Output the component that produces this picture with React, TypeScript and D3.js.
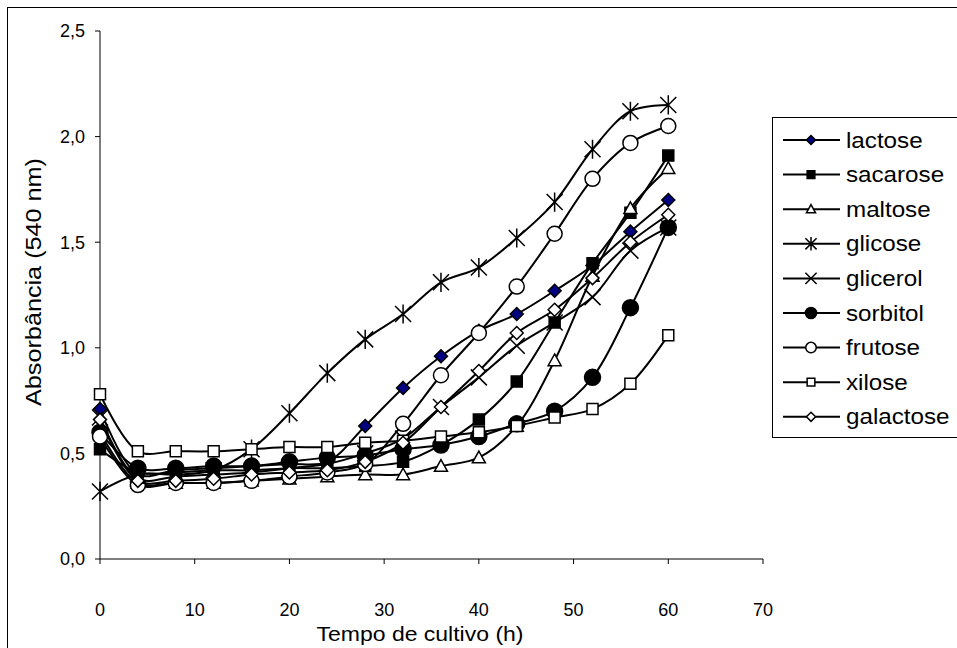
import React from "react";
import * as d3 from "d3";

const times = [0, 4, 8, 12, 16, 20, 24, 28, 32, 36, 40, 44, 48, 52, 56, 60];
const lactose = [0.71, 0.40, 0.42, 0.43, 0.44, 0.45, 0.46, 0.63, 0.81, 0.96, 1.08, 1.16, 1.27, 1.39, 1.55, 1.70];
const sacarose = [0.52, 0.41, 0.41, 0.42, 0.42, 0.43, 0.43, 0.44, 0.46, 0.54, 0.66, 0.84, 1.12, 1.40, 1.64, 1.91];
const maltose = [0.60, 0.36, 0.36, 0.36, 0.37, 0.38, 0.39, 0.40, 0.40, 0.44, 0.48, 0.63, 0.94, 1.34, 1.66, 1.85];
const glicose = [0.32, 0.40, 0.40, 0.42, 0.52, 0.69, 0.88, 1.04, 1.16, 1.31, 1.38, 1.52, 1.69, 1.94, 2.12, 2.15];
const glicerol = [0.67, 0.38, 0.39, 0.40, 0.41, 0.43, 0.45, 0.50, 0.57, 0.72, 0.86, 1.01, 1.12, 1.24, 1.46, 1.57];
const sorbitol = [0.60, 0.43, 0.43, 0.44, 0.44, 0.46, 0.48, 0.49, 0.52, 0.54, 0.58, 0.64, 0.70, 0.86, 1.19, 1.57];
const frutose = [0.58, 0.35, 0.36, 0.36, 0.37, 0.39, 0.41, 0.45, 0.64, 0.87, 1.07, 1.29, 1.54, 1.80, 1.97, 2.05];
const xilose = [0.78, 0.51, 0.51, 0.51, 0.52, 0.53, 0.53, 0.55, 0.56, 0.58, 0.60, 0.63, 0.67, 0.71, 0.83, 1.06];
const galactose = [0.66, 0.37, 0.37, 0.38, 0.40, 0.41, 0.42, 0.46, 0.55, 0.72, 0.89, 1.07, 1.18, 1.33, 1.50, 1.63];

const seriesNames = ["lactose", "sacarose", "maltose", "glicose", "glicerol", "sorbitol", "frutose", "xilose", "galactose"];
const seriesValues = [lactose, sacarose, maltose, glicose, glicerol, sorbitol, frutose, xilose, galactose];
const markerShapes = ["diamond", "square", "triangle", "star", "x", "circle", "circle", "square", "diamond"];
const markerFills = ["#000080", "#000", "#fff", "none", "none", "#000", "#fff", "#fff", "#fff"];
const markerSizes = [6.5, 5.5, 6.5, 8, 8, 8, 7.5, 5.5, 6.5];

const xTicks = [0, 10, 20, 30, 40, 50, 60, 70];
const yTicks = [0, 0.5, 1.0, 1.5, 2.0, 2.5];

const W = 957;
const H = 648;
const FONT = "'Liberation Sans', Arial, sans-serif";

function markerPath(shape: string, s: number): string {
  switch (shape) {
    case "diamond":
      return `M0,${-s}L${s},0L0,${s}L${-s},0Z`;
    case "square":
      return `M${-s},${-s}H${s}V${s}H${-s}Z`;
    case "triangle":
      return `M0,${-s}L${s},${s * 0.8}L${-s},${s * 0.8}Z`;
    case "star":
      return `M${-s},${-s}L${s},${s}M${s},${-s}L${-s},${s}M0,${-s * 1.2}V${s * 1.2}`;
    case "x":
      return `M${-s},${-s}L${s},${s}M${s},${-s}L${-s},${s}`;
    case "circle":
      return `M${s},0A${s},${s} 0 1,1 ${-s},0A${s},${s} 0 1,1 ${s},0Z`;
    default:
      return "";
  }
}

function Marker({ shape, fill, size, x, y }: { shape: string; fill: string; size: number; x: number; y: number }) {
  return (
    <path
      d={markerPath(shape, size)}
      transform={`translate(${x},${y})`}
      fill={fill}
      stroke="#000"
      strokeWidth={1.5}
    />
  );
}

export default function App() {
  const x = d3.scaleLinear().domain([0, 70]).range([100, 763]);
  const y = d3.scaleLinear().domain([0, 2.5]).range([559, 31]);
  const line = d3
    .line<number>()
    .x((_, i) => x(times[i]))
    .y((v) => y(v))
    .curve(d3.curveCatmullRom.alpha(0.5));

  const legendX = 772;
  const legendTop = 117;
  const legendStep = 34.6;
  const legendFirst = 140;

  return (
    <svg
      width={W}
      height={H}
      style={{ position: "absolute", left: 0, top: 0, background: "#fff" }}
      fontFamily={FONT}
    >
      <rect x={0} y={0} width={W} height={H} fill="#fff" />
      <rect x={7.5} y={7.5} width={1000} height={700} fill="none" stroke="#000" strokeWidth={1} />

      {/* axes */}
      <line x1={100} x2={100} y1={y(2.5)} y2={y(0)} stroke="#000" strokeWidth={1} />
      <line x1={100} x2={x(70)} y1={y(0)} y2={y(0)} stroke="#000" strokeWidth={1} />
      {yTicks.map((t) => (
        <g key={"y" + t}>
          <line x1={95} x2={100} y1={y(t)} y2={y(t)} stroke="#000" />
          <text x={85} y={y(t)} dy="0.35em" textAnchor="end" fontSize={18}>
            {t.toFixed(1).replace(".", ",")}
          </text>
        </g>
      ))}
      {xTicks.map((t) => (
        <g key={"x" + t}>
          <line x1={x(t)} x2={x(t)} y1={y(0)} y2={y(0) + 5} stroke="#000" />
          <text x={x(t)} y={610} dy="0.35em" textAnchor="middle" fontSize={18}>
            {t}
          </text>
        </g>
      ))}
      <text x={420} y={634} dy="0.35em" textAnchor="middle" fontSize={21} textLength={207} lengthAdjust="spacingAndGlyphs">
        Tempo de cultivo (h)
      </text>
      <text
        transform={`translate(33,${282}) rotate(-90)`}
        dy="0.35em"
        textAnchor="middle"
        fontSize={22}
        textLength={248}
        lengthAdjust="spacingAndGlyphs"
      >
        Absorbância (540 nm)
      </text>

      {/* series */}
      {seriesValues.map((vals, si) => (
        <g key={seriesNames[si]}>
          <path d={line(vals) || ""} fill="none" stroke="#000" strokeWidth={2} />
          {vals.map((v, i) => (
            <Marker
              key={i}
              shape={markerShapes[si]}
              fill={markerFills[si]}
              size={markerSizes[si]}
              x={x(times[i])}
              y={y(v)}
            />
          ))}
        </g>
      ))}

      {/* legend */}
      <rect x={legendX + 0.5} y={legendTop + 0.5} width={300} height={320} fill="#fff" stroke="#000" strokeWidth={1} />
      {seriesNames.map((name, i) => {
        const ly = legendFirst + i * legendStep;
        return (
          <g key={"lg" + name}>
            <line x1={783} x2={840} y1={ly} y2={ly} stroke="#000" strokeWidth={2} />
            <Marker shape={markerShapes[i]} fill={markerFills[i]} size={markerSizes[i] * 0.7} x={811} y={ly} />
            <text x={846} y={ly} dy="0.35em" fontSize={22} transform={`translate(846,0) scale(1.1,1) translate(-846,0)`}>
              {name}
            </text>
          </g>
        );
      })}
    </svg>
  );
}
